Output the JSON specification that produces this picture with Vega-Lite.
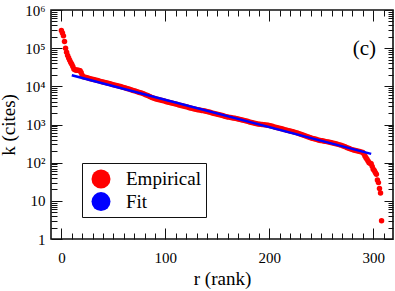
{
  "$schema": "https://vega.github.io/schema/vega-lite/v6.json",
  "width": 342,
  "height": 229,
  "autosize": "none",
  "padding": {"left": 51, "top": 10, "right": 2, "bottom": 52},
  "background": "white",
  "config": {
    "view": {"stroke": "#111", "strokeWidth": 1.6},
    "font": "Liberation Serif"
  },
  "title": {"text": "(c)", "orient": "top", "anchor": "end", "frame": "group", "font": "Liberation Serif", "fontSize": 21, "fontWeight": "normal", "color": "black", "baseline": "alphabetic", "offset": 0, "dx": -17, "dy": 73},
  "datasets": {
    "emp": [
      {"r":0,"k":290000},{"r":1,"k":250000},{"r":2,"k":210000},{"r":3,"k":150000},{"r":4,"k":100000},{"r":5,"k":78000},{"r":6,"k":64000},{"r":7,"k":55000},{"r":8,"k":48000},{"r":9,"k":42000},{"r":10,"k":38000},{"r":11,"k":33000},{"r":12,"k":28500},{"r":13,"k":27000},{"r":14,"k":26800},{"r":15,"k":26500},{"r":16,"k":26300},{"r":17,"k":26000},{"r":18,"k":25500},{"r":19,"k":23000},{"r":20,"k":19500},
      {"r":21,"k":17820},{"r":23,"k":17240},{"r":25,"k":16690},{"r":27,"k":16150},{"r":29,"k":15620},{"r":31,"k":15120},{"r":33,"k":14630},{"r":35,"k":14150},{"r":37,"k":13700},{"r":39,"k":13250},{"r":41,"k":12820},{"r":43,"k":12410},{"r":45,"k":12000},{"r":47,"k":11620},{"r":49,"k":11240},{"r":51,"k":10870},{"r":53,"k":10520},{"r":55,"k":10180},{"r":57,"k":9850},{"r":59,"k":9530},{"r":61,"k":9160},{"r":63,"k":8800},{"r":65,"k":8460},{"r":67,"k":8130},{"r":69,"k":7810},{"r":71,"k":7510},{"r":73,"k":7210},{"r":75,"k":6930},{"r":77,"k":6660},{"r":79,"k":6400},{"r":81,"k":6050},{"r":83,"k":5720},{"r":85,"k":5410},{"r":87,"k":5120},{"r":89,"k":4840},{"r":91,"k":4680},{"r":93,"k":4530},{"r":95,"k":4390},{"r":97,"k":4240},{"r":99,"k":4110},{"r":101,"k":3970},{"r":103,"k":3840},{"r":105,"k":3720},{"r":107,"k":3600},{"r":109,"k":3480},{"r":111,"k":3370},{"r":113,"k":3260},{"r":115,"k":3150},{"r":117,"k":3050},{"r":119,"k":2950},{"r":121,"k":2860},{"r":123,"k":2760},{"r":125,"k":2670},{"r":127,"k":2590},{"r":129,"k":2500},{"r":131,"k":2440},{"r":133,"k":2390},{"r":135,"k":2330},{"r":137,"k":2280},{"r":139,"k":2220},{"r":141,"k":2150},{"r":143,"k":2080},{"r":145,"k":2010},{"r":147,"k":1950},{"r":149,"k":1890},{"r":151,"k":1820},{"r":153,"k":1770},{"r":155,"k":1710},{"r":157,"k":1650},{"r":159,"k":1600},{"r":161,"k":1560},{"r":163,"k":1530},{"r":165,"k":1490},{"r":167,"k":1460},{"r":169,"k":1420},{"r":171,"k":1380},{"r":173,"k":1330},{"r":175,"k":1290},{"r":177,"k":1250},{"r":179,"k":1210},{"r":181,"k":1170},{"r":183,"k":1130},{"r":185,"k":1090},{"r":187,"k":1060},{"r":189,"k":1030},{"r":191,"k":1010},{"r":193,"k":995},{"r":195,"k":980},{"r":197,"k":970},{"r":199,"k":955},{"r":201,"k":925},{"r":203,"k":895},{"r":205,"k":865},{"r":207,"k":837},{"r":209,"k":810},{"r":211,"k":784},{"r":213,"k":758},{"r":215,"k":734},{"r":217,"k":710},{"r":219,"k":687},{"r":221,"k":665},{"r":223,"k":643},{"r":225,"k":622},{"r":227,"k":595},{"r":229,"k":569},{"r":231,"k":545},{"r":233,"k":521},{"r":235,"k":498},{"r":237,"k":477},{"r":239,"k":456},{"r":241,"k":436},{"r":243,"k":422},{"r":245,"k":408},{"r":247,"k":395},{"r":249,"k":382},{"r":251,"k":373},{"r":253,"k":364},{"r":255,"k":356},{"r":257,"k":347},{"r":259,"k":339},{"r":261,"k":328},{"r":263,"k":318},{"r":265,"k":307},{"r":267,"k":297},{"r":269,"k":288},{"r":271,"k":273},{"r":273,"k":260},{"r":275,"k":247},{"r":277,"k":234},{"r":279,"k":223},{"r":281,"k":216},{"r":283,"k":209},{"r":285,"k":202},{"r":287,"k":195},{"r":289,"k":189},
      {"r":290,"k":186},{"r":291,"k":170},{"r":292,"k":150},{"r":293,"k":135},{"r":294,"k":123},{"r":295,"k":110},{"r":296,"k":100},{"r":297,"k":97},{"r":298,"k":94},{"r":299,"k":80},{"r":300,"k":67},{"r":301,"k":62},{"r":302,"k":55},{"r":303,"k":50},{"r":304,"k":35},{"r":305,"k":30},{"r":306,"k":21},{"r":307,"k":16},{"r":308,"k":3}
    ],
    "fit": [{"r": 10, "k": 19500}, {"r": 298, "k": 170}]
  },
  "resolve": {"axis": {"x": "independent", "y": "independent"}},
  "layer": [
    {
      "data": {"name": "emp"},
      "mark": {"type": "point", "filled": true, "size": 30, "opacity": 1},
      "encoding": {
        "x": {"field": "r", "type": "quantitative", "scale": {"domain": [-10, 319], "nice": false, "zero": false},
              "axis": {"orient": "bottom", "values": [0, 100, 200, 300], "ticks": false, "domain": false, "grid": false, "labelPadding": 11, "labelFont": "Liberation Serif", "labelColor": "black", "labelFontSize": 15, "title": "r (rank)", "titleFont": "Liberation Serif", "titleColor": "black", "titleFontWeight": "normal", "titleFontSize": 19, "titlePadding": 4}},
        "y": {"field": "k", "type": "quantitative", "scale": {"type": "log", "domain": [1, 1000000], "nice": false},
              "axis": {"orient": "left", "values": [1, 10, 100, 1000, 10000, 100000, 1000000], "ticks": false, "domain": false, "grid": false, "labelPadding": 6, "labelFont": "Liberation Serif", "labelColor": "black", "labelFontSize": 15,
                       "labelExpr": "datum.value < 5 ? '1' : datum.value < 50 ? '10' : datum.value < 500 ? '10²' : datum.value < 5000 ? '10³' : datum.value < 50000 ? '10⁴' : datum.value < 500000 ? '10⁵' : '10⁶'",
                       "title": "k (cites)", "titleFont": "Liberation Serif", "titleColor": "black", "titleFontWeight": "normal", "titleFontSize": 19, "titlePadding": 6}},
        "color": {"datum": "Empirical", "type": "nominal",
                  "scale": {"domain": ["Empirical", "Fit"], "range": ["#ff0000", "#0000ff"]},
                  "legend": {"orient": "none", "legendX": 31, "legendY": 153, "title": null, "strokeColor": "#111", "padding": 5,
                             "labelFont": "Liberation Serif", "labelFontSize": 19, "labelColor": "black", "labelOffset": 14, "rowPadding": 1.6, "symbolSize": 361, "symbolOffset": 3, "symbolStrokeWidth": 2.5,
                             "encode": {
                               "symbols": {
                                 "shape": {"condition": {"test": "datum.value === 'Fit'", "value": "stroke"}, "value": "circle"},
                                 "size": {"condition": {"test": "datum.value === 'Fit'", "value": 529}, "value": 16},
                                 "fill": {"condition": {"test": "datum.value === 'Fit'", "value": "transparent"}, "value": "#ff0000"},
                                 "stroke": {"condition": {"test": "datum.value === 'Fit'", "value": "#0000ff"}, "value": "transparent"},
                                 "strokeWidth": {"value": 2.5},
                                 "opacity": {"value": 1}
                               }}}}
      }
    },
    {
      "data": {"name": "fit"},
      "mark": {"type": "line", "strokeWidth": 2.5, "color": "#0000ff"},
      "encoding": {
        "x": {"field": "r", "type": "quantitative", "axis": {"orient": "top", "offset": -229, "values": [0, 100, 200, 300], "grid": false, "domain": false, "labels": false, "ticks": true, "tickColor": "#111", "tickSize": 11, "title": null}},
        "y": {"field": "k", "type": "quantitative", "axis": {"orient": "right", "offset": -342, "values": [1, 10, 100, 1000, 10000, 100000, 1000000], "grid": false, "domain": false, "labels": false, "ticks": true, "tickColor": "#111", "tickSize": 11, "title": null}}
      }
    },
    {
      "data": {"name": "fit"},
      "mark": {"type": "point", "opacity": 0},
      "encoding": {
        "x": {"field": "r", "type": "quantitative", "axis": {"orient": "top", "offset": -229, "values": [10,20,30,40,50,60,70,80,90,110,120,130,140,150,160,170,180,190,210,220,230,240,250,260,270,280,290,310], "grid": false, "domain": false, "labels": false, "ticks": true, "tickColor": "#111", "tickSize": 6, "title": null}},
        "y": {"field": "k", "type": "quantitative", "axis": {"orient": "right", "offset": -342, "values": [2,3,4,5,6,7,8,9,20,30,40,50,60,70,80,90,200,300,400,500,600,700,800,900,2000,3000,4000,5000,6000,7000,8000,9000,20000,30000,40000,50000,60000,70000,80000,90000,200000,300000,400000,500000,600000,700000,800000,900000], "grid": false, "domain": false, "labels": false, "ticks": true, "tickColor": "#111", "tickSize": 6, "title": null}}
      }
    },
    {
      "data": {"name": "fit"},
      "mark": {"type": "point", "opacity": 0},
      "encoding": {
        "x": {"field": "r", "type": "quantitative", "axis": {"orient": "bottom", "offset": -229, "values": [0, 100, 200, 300], "grid": false, "domain": false, "labels": false, "ticks": true, "tickColor": "#111", "tickSize": 11, "title": null}},
        "y": {"field": "k", "type": "quantitative", "axis": {"orient": "left", "offset": -342, "values": [1, 10, 100, 1000, 10000, 100000, 1000000], "grid": false, "domain": false, "labels": false, "ticks": true, "tickColor": "#111", "tickSize": 9, "title": null}}
      }
    },
    {
      "data": {"name": "fit"},
      "mark": {"type": "point", "opacity": 0},
      "encoding": {
        "x": {"field": "r", "type": "quantitative", "axis": {"orient": "bottom", "offset": -229, "values": [10,20,30,40,50,60,70,80,90,110,120,130,140,150,160,170,180,190,210,220,230,240,250,260,270,280,290,310], "grid": false, "domain": false, "labels": false, "ticks": true, "tickColor": "#111", "tickSize": 6, "title": null}},
        "y": {"field": "k", "type": "quantitative", "axis": {"orient": "left", "offset": -342, "values": [2,3,4,5,6,7,8,9,20,30,40,50,60,70,80,90,200,300,400,500,600,700,800,900,2000,3000,4000,5000,6000,7000,8000,9000,20000,30000,40000,50000,60000,70000,80000,90000,200000,300000,400000,500000,600000,700000,800000,900000], "grid": false, "domain": false, "labels": false, "ticks": true, "tickColor": "#111", "tickSize": 5, "title": null}}
      }
    }
  ]
}
